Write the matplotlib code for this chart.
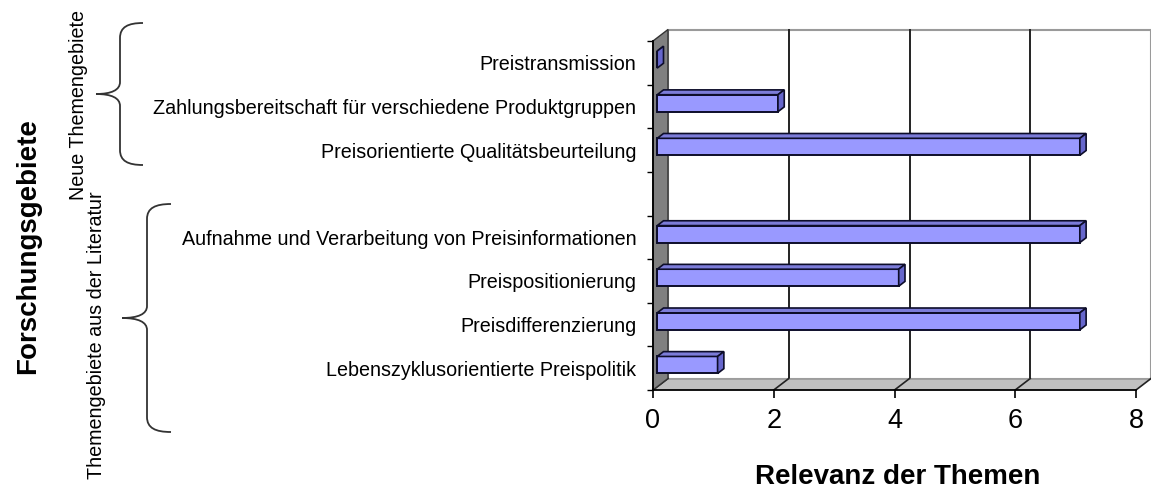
import matplotlib
matplotlib.use("Agg")
import matplotlib.pyplot as plt
import numpy as np
from matplotlib.patches import Polygon, PathPatch
from matplotlib.path import Path

categories = ["Preistransmission",
              "Zahlungsbereitschaft für verschiedene Produktgruppen",
              "Preisorientierte Qualitätsbeurteilung",
              "",
              "Aufnahme und Verarbeitung von Preisinformationen",
              "Preispositionierung",
              "Preisdifferenzierung",
              "Lebenszyklusorientierte Preispolitik"]
values = [0, 2, 7, None, 7, 4, 7, 1]
x_ticks = [0, 2, 4, 6, 8]
group_labels = ["Neue Themengebiete", "Themengebiete aus der Literatur"]
y_title = "Forschungsgebiete"
x_title = "Relevanz der Themen"

plt.rcParams['font.family'] = ['Liberation Sans', 'DejaVu Sans']

W, H = 1151, 491
fig = plt.figure(figsize=(W / 100, H / 100), dpi=100)
L, R, T, B = 653, 1136, 41, 390
ax = fig.add_axes([L / W, 1 - B / H, (R - L) / W, (B - T) / H])
n = len(categories)
xmax = x_ticks[-1]
ax.set_xlim(0, xmax)
ax.set_ylim(n - 0.5, -0.5)
ax.patch.set_visible(False)
for s in ax.spines.values():
    s.set_visible(False)

dx = 15 / ((R - L) / xmax)
dy = -11.5 / ((B - T) / n)
top, bot = -0.5, n - 0.5

# back wall
ax.add_patch(Polygon([(dx, top + dy), (xmax + dx, top + dy), (xmax + dx, bot + dy), (dx, bot + dy)],
                     closed=True, fc='white', ec='#9a9a9a', lw=1.5, zorder=0, clip_on=False))
for x in x_ticks[1:-1]:
    ax.plot([x + dx, x + dx], [top + dy, bot + dy], color='#222222', lw=1.4, zorder=1, clip_on=False)

# floor
ax.add_patch(Polygon([(0, bot), (xmax, bot), (xmax + dx, bot + dy), (dx, bot + dy)],
                     closed=True, fc='#c0c0c0', ec='none', zorder=2, clip_on=False))
ax.plot([dx, xmax + dx], [bot + dy, bot + dy], color='#9a9a9a', lw=1.2, zorder=2, clip_on=False)
for x in x_ticks:
    ax.plot([x, x + dx], [bot, bot + dy], color='#222222', lw=1.2, zorder=3, clip_on=False)
ax.plot([0, xmax], [bot, bot], color='black', lw=1.3, zorder=6, clip_on=False)

# left wall
ax.add_patch(Polygon([(0, top), (dx, top + dy), (dx, bot + dy), (0, bot)],
                     closed=True, fc='#808080', ec='#333333', lw=1.0, zorder=3, clip_on=False))
ax.plot([0, 0], [top, bot], color='black', lw=1.3, zorder=6, clip_on=False)

# bars
a, b = 0.28, 0.70
h = 0.39
edge = '#0d0d2a'
for i, v in enumerate(values):
    if v is None:
        continue
    yc = i + a * dy
    ax.barh(yc, v, height=h, left=a * dx, color='#9999ff', edgecolor=edge, lw=1.4,
            zorder=5, clip_on=False)
    yt = yc - h / 2
    yb = yc + h / 2
    ddx = (b - a) * dx
    ddy = (b - a) * dy
    x0 = a * dx
    x1 = v + a * dx
    ax.add_patch(Polygon([(x0, yt), (x1, yt), (x1 + ddx, yt + ddy), (x0 + ddx, yt + ddy)],
                         closed=True, fc='#7c7cd9', ec=edge, lw=1.2, zorder=5, clip_on=False))
    ax.add_patch(Polygon([(x1, yt), (x1 + ddx, yt + ddy), (x1 + ddx, yb + ddy), (x1, yb)],
                         closed=True, fc='#6666cc', ec=edge, lw=1.2, zorder=5, clip_on=False))

# ticks
ax.set_yticks(range(n))
ax.set_yticklabels(categories, fontsize=14.2)
ax.tick_params(axis='y', which='major', length=0, pad=12)
ax.set_yticks(np.arange(top, bot + 0.01, 1), minor=True)
ax.tick_params(axis='y', which='minor', length=4.5, width=1.0, color='black')
ax.set_xticks(x_ticks)
ax.set_xticklabels([str(t) for t in x_ticks], fontsize=19.5)
ax.tick_params(axis='x', length=6, width=1.2, pad=7, color='black')

# titles
fig.text(898 / W, 1 - 477 / H, x_title, ha='center', va='center', fontsize=20, fontweight='bold')
fig.text(28 / W, 1 - 246 / H, y_title, ha='center', va='center', rotation=90,
         fontsize=20, fontweight='bold')
fig.text(78 / W, 1 - 105 / H, group_labels[0], ha='center', va='center', rotation=90, fontsize=14.2)
fig.text(97 / W, 1 - 335 / H, group_labels[1], ha='center', va='center', rotation=90, fontsize=14.2)

# braces (overlay in pixel coordinates)
ov = fig.add_axes([0, 0, 1, 1])
ov.set_xlim(0, W)
ov.set_ylim(H, 0)
ov.axis('off')
ov.patch.set_visible(False)


def brace(xe, xl, xtip, yt, yb, ym):
    verts = [(xe, yt),
             (xl + 0.35 * (xe - xl), yt), (xl, yt + 4), (xl, yt + 15),
             (xl, ym - 12),
             (xl, ym - 4), (xl - 0.35 * (xl - xtip), ym), (xtip, ym),
             (xl - 0.35 * (xl - xtip), ym), (xl, ym + 4), (xl, ym + 12),
             (xl, yb - 15),
             (xl, yb - 4), (xl + 0.35 * (xe - xl), yb), (xe, yb)]
    codes = [Path.MOVETO,
             Path.CURVE4, Path.CURVE4, Path.CURVE4,
             Path.LINETO,
             Path.CURVE4, Path.CURVE4, Path.CURVE4,
             Path.CURVE4, Path.CURVE4, Path.CURVE4,
             Path.LINETO,
             Path.CURVE4, Path.CURVE4, Path.CURVE4]
    ov.add_patch(PathPatch(Path(verts, codes), fc='none', ec='#333333', lw=1.3))


brace(143, 120, 96, 23, 165, 94)
brace(171, 147, 122, 204, 432, 318)

fig.savefig("out.png", dpi=100, facecolor='white')
